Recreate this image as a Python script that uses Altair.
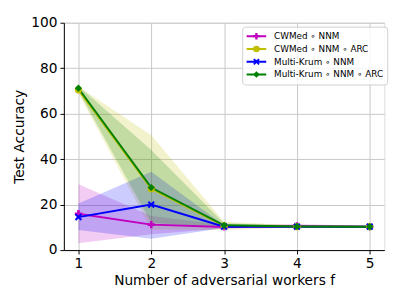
import altair as alt
import pandas as pd

f_values = [1, 2, 3, 4, 5]
series_names = [
    "CWMed \u2218 NNM",
    "CWMed \u2218 NNM \u2218 ARC",
    "Multi-Krum \u2218 NNM",
    "Multi-Krum \u2218 NNM \u2218 ARC",
]
series_colors = ["#bf00bf", "#bfbf00", "#0000ff", "#008000"]

cwmed_mean = [16.0, 11.2, 10.2, 10.6, 10.3]
cwmed_low = [3.0, 7.0, 9.5, 10.0, 10.0]
cwmed_high = [29.0, 15.0, 11.0, 11.5, 10.6]

cwmed_arc_mean = [70.5, 27.0, 10.6, 10.3, 10.3]
cwmed_arc_low = [69.0, 9.0, 8.8, 9.8, 10.0]
cwmed_arc_high = [72.0, 50.5, 12.5, 10.9, 10.6]

krum_mean = [14.5, 20.0, 10.3, 10.3, 10.3]
krum_low = [8.8, 5.0, 9.7, 10.0, 10.0]
krum_high = [20.5, 34.5, 10.9, 10.6, 10.6]

krum_arc_mean = [71.2, 27.5, 10.9, 10.4, 10.3]
krum_arc_low = [70.0, 12.0, 9.8, 10.0, 10.0]
krum_arc_high = [72.2, 44.0, 11.8, 10.8, 10.6]

means = [cwmed_mean, cwmed_arc_mean, krum_mean, krum_arc_mean]
lows = [cwmed_low, cwmed_arc_low, krum_low, krum_arc_low]
highs = [cwmed_high, cwmed_arc_high, krum_high, krum_arc_high]

rows = []
for name, m, lo, hi in zip(series_names, means, lows, highs):
    for f, a, b, c in zip(f_values, m, lo, hi):
        rows.append({"series": name, "f": f, "mean": a, "low": b, "high": c})
df = pd.DataFrame(rows)

x_path = ("M-1,-0.6L-0.6,-1L0,-0.4L0.6,-1L1,-0.6L0.4,0L1,0.6L0.6,1"
          "L0,0.4L-0.6,1L-1,0.6L-0.4,0Z")
plus_path = ("M-0.35,-1L0.35,-1L0.35,-0.35L1,-0.35L1,0.35L0.35,0.35L0.35,1"
             "L-0.35,1L-0.35,0.35L-1,0.35L-1,-0.35L-0.35,-0.35Z")
series_shapes = [plus_path, "circle", x_path, "diamond"]

color_scale = alt.Scale(domain=series_names, range=series_colors)
shape_scale = alt.Scale(domain=series_names, range=series_shapes)

FONT = "DejaVu Sans"
axis_common = dict(
    grid=True, gridColor="#c8c8c8", gridWidth=1,
    domainColor="black", tickColor="black", tickSize=4,
    labelFont=FONT, labelFontSize=14, labelColor="black", labelPadding=3,
    titleFont=FONT, titleFontSize=14, titleFontWeight="normal",
    titleColor="black",
)

x_enc = alt.X(
    "f:Q",
    scale=alt.Scale(domain=[0.8, 5.2], nice=False, zero=False),
    axis=alt.Axis(values=f_values, title="Number of adversarial workers f",
                  format="d", titlePadding=3, **axis_common),
)
y_axis = alt.Axis(values=[0, 20, 40, 60, 80, 100], title="Test Accuracy",
                  titlePadding=4, **axis_common)
y_scale = alt.Scale(domain=[0, 100], nice=False)

base = alt.Chart(df)

bands = base.mark_area(opacity=0.2).encode(
    x=x_enc,
    y=alt.Y("low:Q", scale=y_scale, axis=y_axis),
    y2="high:Q",
    color=alt.Color("series:N", scale=color_scale, legend=None),
    detail="series:N",
)

line_legend = alt.Legend(
    title=None, orient="none", legendX=182, legendY=4,
    symbolType="stroke", symbolSize=400, symbolStrokeWidth=2,
    labelFontSize=9, labelFont=FONT, labelColor="black",
    labelOffset=7, clipHeight=12.5, rowPadding=0, padding=3.5,
    strokeColor="#d0d0d0", fillColor="rgba(255,255,255,0.8)",
    cornerRadius=3, labelLimit=300,
)

point_legend = alt.Legend(
    title=None, orient="none", legendX=182, legendY=4,
    symbolSize=45, symbolOffset=6.5, symbolStrokeWidth=0,
    labelExpr="''", labelFontSize=9, labelFont=FONT,
    clipHeight=12.5, rowPadding=0, padding=3.5, zindex=1,
)

lines = base.mark_line(strokeWidth=2).encode(
    x=x_enc,
    y=alt.Y("mean:Q", scale=y_scale, axis=y_axis),
    color=alt.Color("series:N", scale=color_scale, sort=series_names,
                    legend=line_legend),
)

points = base.mark_point(filled=True, size=55, opacity=1).encode(
    x=x_enc,
    y=alt.Y("mean:Q", scale=y_scale, axis=y_axis),
    color=alt.Color("series:N", scale=color_scale, sort=series_names,
                    legend=point_legend),
    shape=alt.Shape("series:N", scale=shape_scale, sort=series_names,
                    legend=point_legend),
)

chart = (
    alt.layer(bands, lines, points)
    .resolve_legend(color="independent", shape="independent")
    .properties(
        width=327, height=232,
        autosize=alt.AutoSizeParams(type="none"),
        padding={"left": 57, "top": 12, "right": 15, "bottom": 53},
    )
    .configure_view(stroke="black", strokeWidth=1)
    .configure(font=FONT)
)

chart.save("out.html", embed_options={"renderer": "svg", "actions": False})
